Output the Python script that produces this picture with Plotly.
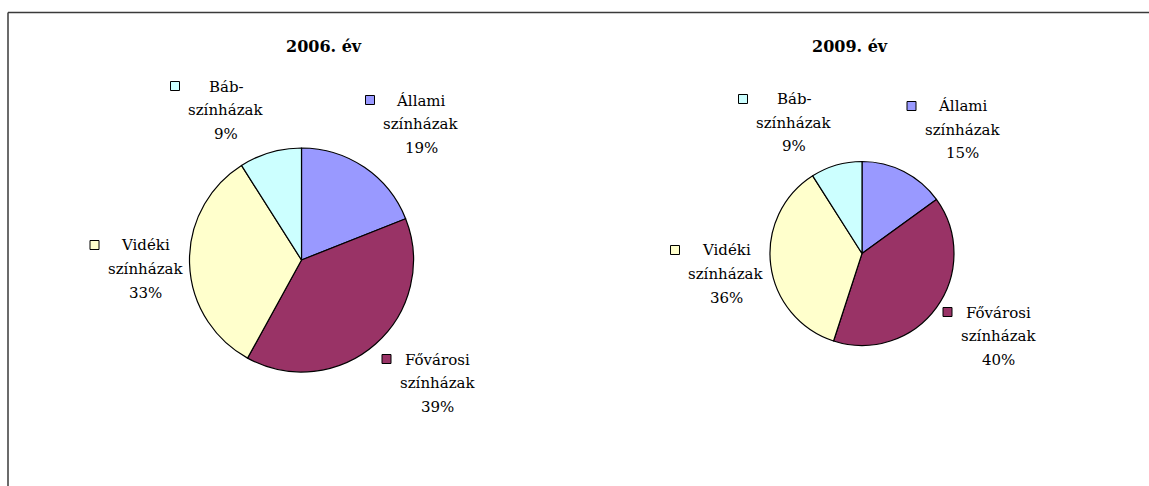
import plotly.graph_objects as go

# ---------------- data ----------------
categories = ["Állami színházak", "Fővárosi színházak", "Vidéki színházak", "Báb-színházak"]
label_first = ["Állami", "Fővárosi", "Vidéki", "Báb-"]
label_second = ["színházak", "színházak", "színházak", "színházak"]
values_2006 = [19, 39, 33, 9]
values_2009 = [15, 40, 36, 9]
titles = ["2006. év", "2009. év"]

# ---------------- styles / layout ----------------
colors = ["#9999FF", "#993366", "#FFFFCC", "#CCFFFF"]
W, H = 1149, 486
FONT = "DejaVu Serif"
LABEL_SIZE = 15
TITLE_SIZE = 16
LINE_GAP = 23.5

# pie geometry (pixel centre, radius) and label centres (pixel, middle line)
charts = [
    dict(values=values_2006, title=titles[0], cx=301.5, cy=260, r=112, title_x=323.5, title_y=46,
         label_pos=[(421, 124), (437.5, 383), (145.5, 269), (226, 110)]),
    dict(values=values_2009, title=titles[1], cx=862, cy=253.5, r=92, title_x=849.5, title_y=46,
         label_pos=[(962.5, 130), (998.5, 336), (726, 274), (794, 123)]),
]


def px(x):
    return x / W


def py(y):
    return 1 - y / H


fig = go.Figure()
annotations = []
shapes = []

# chart frame (top and left edges; the rest lies outside the view)
frame_line = dict(color="#3a3a3a", width=1.5)
shapes.append(dict(type="line", xref="paper", yref="paper",
                   x0=px(8), x1=1.0, y0=py(12.5), y1=py(12.5), line=frame_line))
shapes.append(dict(type="line", xref="paper", yref="paper",
                   x0=px(8), x1=px(8), y0=0.0, y1=py(12.5), line=frame_line))

for ch in charts:
    cx, cy, r = ch["cx"], ch["cy"], ch["r"]
    vals = ch["values"]
    fig.add_trace(go.Pie(
        labels=categories, values=vals, sort=False, direction="clockwise", rotation=0,
        marker=dict(colors=colors, line=dict(color="black", width=1.2)),
        textinfo="none", hoverinfo="label+percent", showlegend=False,
        domain=dict(x=[px(cx - r), px(cx + r)], y=[py(cy + r), py(cy - r)]),
    ))
    annotations.append(dict(x=px(ch["title_x"]), y=py(ch["title_y"]), xref="paper", yref="paper",
                            text="<b>%s</b>" % ch["title"], showarrow=False,
                            xanchor="center", yanchor="middle",
                            font=dict(family=FONT, size=TITLE_SIZE, color="black")))
    total = sum(vals)
    for i, v in enumerate(vals):
        lx, ly = ch["label_pos"][i]
        pct = "%d%%" % round(v / total * 100)
        lines = [label_first[i], label_second[i], pct]
        for j, t in enumerate(lines):
            annotations.append(dict(x=px(lx), y=py(ly + (j - 1) * LINE_GAP), xref="paper", yref="paper",
                                    text=t, showarrow=False, xanchor="center", yanchor="middle",
                                    font=dict(family=FONT, size=LABEL_SIZE, color="black")))
        # legend key square
        sx, sy, s = lx - 51, ly - LINE_GAP - 0.5, 9
        shapes.append(dict(type="rect", xref="paper", yref="paper",
                           x0=px(sx - s / 2), x1=px(sx + s / 2),
                           y0=py(sy + s / 2), y1=py(sy - s / 2),
                           line=dict(color="black", width=1), fillcolor=colors[i]))

fig.update_layout(
    width=W, height=H,
    margin=dict(l=0, r=0, t=0, b=0),
    paper_bgcolor="white", plot_bgcolor="white",
    annotations=annotations, shapes=shapes,
    font=dict(family=FONT),
)

fig.write_html("out.html",
               config={"displayModeBar": False},
               post_script="document.body.style.margin='0';document.body.style.overflow='hidden';")
